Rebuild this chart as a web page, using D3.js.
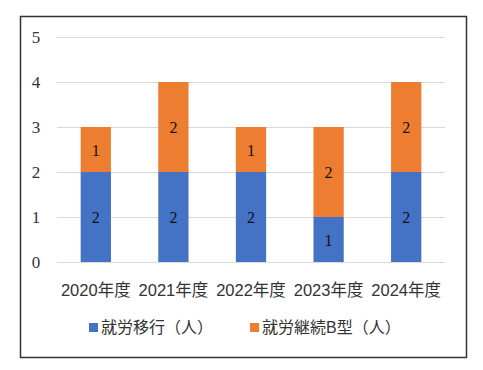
<!DOCTYPE html>
<html>
<head>
<meta charset="utf-8">
<script src="https://cdn.jsdelivr.net/npm/d3@7"></script>
<style>
  body { margin: 0; background: #fff; }
</style>
</head>
<body>
<div id="chart"></div>
<script>
var years = ["2020年度", "2021年度", "2022年度", "2023年度", "2024年度"];
var ikou = [2, 2, 2, 1, 2];        // 就労移行（人）
var keizokuB = [1, 2, 1, 2, 2];    // 就労継続B型（人）
var seriesNames = ["就労移行（人）", "就労継続B型（人）"];
var yTicks = [0, 1, 2, 3, 4, 5];

var colors = ["#4472c4", "#ed7d31"];

var W = 483, H = 370;
var plot = { left: 57, right: 445, top: 37, bottom: 262 };

var svg = d3.select("#chart").append("svg")
    .attr("width", W)
    .attr("height", H);

// outer frame
svg.append("rect")
    .attr("x", 20.5).attr("y", 16.5)
    .attr("width", 446).attr("height", 341)
    .attr("fill", "#fff")
    .attr("stroke", "#333")
    .attr("stroke-width", 1.5);

var xScale = d3.scaleBand().domain(years).range([plot.left, plot.right]).paddingInner(0.61).paddingOuter(0.305);
var yScale = d3.scaleLinear().domain([0, 5]).range([plot.bottom, plot.top]);

// gridlines
svg.append("g").selectAll("line")
    .data(yTicks)
    .enter().append("line")
    .attr("x1", plot.left).attr("x2", plot.right)
    .attr("y1", function(d) { return yScale(d) + 0.5; })
    .attr("y2", function(d) { return yScale(d) + 0.5; })
    .attr("stroke", "#d9d9d9")
    .attr("stroke-width", 1);

// y axis labels
svg.append("g").selectAll("text")
    .data(yTicks)
    .enter().append("text")
    .attr("x", 36)
    .attr("y", function(d) { return yScale(d) + 6; })
    .attr("text-anchor", "middle")
    .style("font-family", "'Liberation Serif', 'DejaVu Serif', serif")
    .style("font-size", "17px")
    .attr("fill", "#333")
    .text(function(d) { return d; });

var stackData = years.map(function(y, i) { return { year: y, a: ikou[i], b: keizokuB[i] }; });
var stacked = d3.stack().keys(["a", "b"])(stackData);

var layers = svg.append("g").selectAll("g")
    .data(stacked)
    .enter().append("g")
    .attr("fill", function(d, i) { return colors[i]; });

layers.selectAll("rect")
    .data(function(d) { return d; })
    .enter().append("rect")
    .attr("x", function(d) { return xScale(d.data.year); })
    .attr("width", xScale.bandwidth())
    .attr("y", function(d) { return yScale(d[1]); })
    .attr("height", function(d) { return yScale(d[0]) - yScale(d[1]); });

// data labels
layers.selectAll("text")
    .data(function(d) { return d; })
    .enter().append("text")
    .attr("x", function(d) { return xScale(d.data.year) + xScale.bandwidth() / 2; })
    .attr("y", function(d) { return (yScale(d[0]) + yScale(d[1])) / 2 + 6; })
    .attr("text-anchor", "middle")
    .style("font-family", "'Liberation Serif', 'DejaVu Serif', serif")
    .style("font-size", "16px")
    .attr("fill", "#111")
    .text(function(d) { return d[1] - d[0]; });

// x axis labels
svg.append("g").selectAll("text")
    .data(years)
    .enter().append("text")
    .attr("x", function(d) { return xScale(d) + xScale.bandwidth() / 2; })
    .attr("y", 296)
    .attr("text-anchor", "middle")
    .style("font-family", "'Liberation Sans', 'Noto Sans CJK JP', sans-serif")
    .style("font-size", "16.5px")
    .attr("fill", "#333")
    .text(function(d) { return d; });

// legend
var legendX = [89, 250];
var legend = svg.append("g").selectAll("g")
    .data(seriesNames)
    .enter().append("g")
    .attr("transform", function(d, i) { return "translate(" + legendX[i] + ",327)"; });

legend.append("rect")
    .attr("x", 0).attr("y", -4)
    .attr("width", 9).attr("height", 9)
    .attr("fill", function(d, i) { return colors[i]; });

legend.append("text")
    .attr("x", 12)
    .attr("y", 6)
    .style("font-family", "'Liberation Sans', 'Noto Sans CJK JP', sans-serif")
    .style("font-size", "16px")
    .attr("fill", "#333")
    .text(function(d) { return d; });
</script>
</body>
</html>
